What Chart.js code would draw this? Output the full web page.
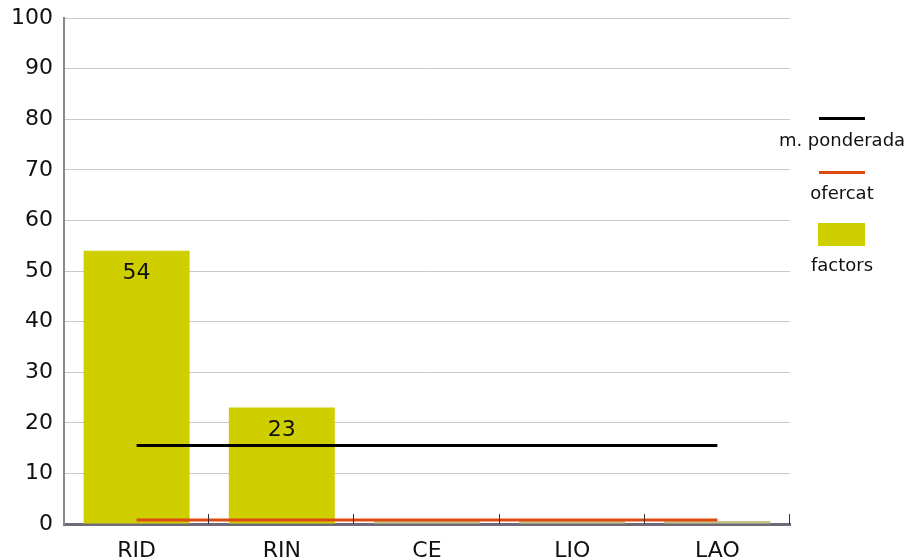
<!DOCTYPE html>
<html>
<head>
<meta charset="utf-8">
<script src="https://cdn.jsdelivr.net/npm/chart.js@4"></script>
<style>
  html, body { margin: 0; padding: 0; background: #fff; }
  #wrap { width: 910px; height: 558px; }
</style>
</head>
<body>
<div id="wrap"><canvas id="chart"></canvas></div>
<script>
const categories = ['RID', 'RIN', 'CE', 'LIO', 'LAO'];
const factors = [54, 23, 0, 0, 0];
const ofercat = [0.8, 0.8, 0.8, 0.8, 0.8];
const ponderada = [15.5, 15.5, 15.5, 15.5, 15.5];
const yTicks = [0, 10, 20, 30, 40, 50, 60, 70, 80, 90, 100];

const FONT = '"DejaVu Sans", Verdana, sans-serif';
const YELLOW = '#cfcf00';
const ORANGE = '#dd4b12';

// value labels inside the bars
const barLabels = {
  id: 'barLabels',
  afterDatasetsDraw(chart) {
    const meta = chart.getDatasetMeta(2);
    const ctx = chart.ctx;
    ctx.save();
    ctx.font = '22px ' + FONT;
    ctx.fillStyle = '#111';
    ctx.textAlign = 'center';
    ctx.textBaseline = 'middle';
    meta.data.forEach((bar, i) => {
      if (factors[i] > 0) ctx.fillText(String(factors[i]), bar.x, bar.y + 23);
    });
    ctx.restore();
  },
};

// small tick marks on the x axis, inside the plot
const innerTicks = {
  id: 'innerTicks',
  afterDatasetsDraw(chart) {
    const { ctx, chartArea } = chart;
    const step = (chartArea.right - chartArea.left) / categories.length;
    ctx.save();
    ctx.strokeStyle = '#333';
    ctx.lineWidth = 1;
    for (let i = 1; i <= categories.length; i++) {
      const x = Math.round(chartArea.left + i * step) - 0.5;
      ctx.beginPath();
      ctx.moveTo(x, chartArea.bottom - 10);
      ctx.lineTo(x, chartArea.bottom);
      ctx.stroke();
    }
    ctx.restore();
  },
};

// legend stacked on the right: sample above label
const sideLegend = {
  id: 'sideLegend',
  afterDraw(chart) {
    const ctx = chart.ctx;
    const cx = 842;
    ctx.save();
    ctx.font = '18px ' + FONT;
    ctx.textAlign = 'center';
    ctx.textBaseline = 'middle';

    ctx.fillStyle = '#000';
    ctx.fillRect(819, 117, 46, 3);
    ctx.fillStyle = '#111';
    ctx.fillText('m. ponderada', cx, 141);

    ctx.fillStyle = ORANGE;
    ctx.fillRect(819, 171, 46, 3);
    ctx.fillStyle = '#111';
    ctx.fillText('ofercat', cx, 194);

    ctx.fillStyle = YELLOW;
    ctx.fillRect(818, 223, 47, 23);
    ctx.fillStyle = '#111';
    ctx.fillText('factors', cx, 266);
    ctx.restore();
  },
};

new Chart(document.getElementById('chart'), {
  data: {
    labels: categories,
    datasets: [
      {
        type: 'line',
        label: 'm. ponderada',
        data: ponderada,
        borderColor: '#000',
        borderWidth: 3,
        pointRadius: 0,
        order: 1,
      },
      {
        type: 'line',
        label: 'ofercat',
        data: ofercat,
        borderColor: ORANGE,
        borderWidth: 3,
        pointRadius: 0,
        order: 2,
      },
      {
        type: 'bar',
        label: 'factors',
        data: factors,
        backgroundColor: factors.map((v) => (v > 0 ? YELLOW : '#c4c48a')),
        minBarLength: 3,
        barPercentage: 0.73,
        categoryPercentage: 1,
        order: 3,
      },
    ],
  },
  options: {
    responsive: true,
    maintainAspectRatio: false,
    animation: false,
    layout: { padding: { top: 18, right: 120, left: 0, bottom: 0 } },
    plugins: {
      legend: { display: false },
      tooltip: { enabled: false },
    },
    scales: {
      x: {
        offset: true,
        grid: { display: false },
        border: { display: true, color: '#6f6a78', width: 3 },
        ticks: { color: '#111', font: { family: FONT, size: 22 }, padding: 6, maxRotation: 0 },
        afterFit: (scale) => { scale.height = 34; },
      },
      y: {
        min: 0,
        max: 100,
        afterBuildTicks: (scale) => { scale.ticks = yTicks.map((v) => ({ value: v })); },
        grid: { color: '#c8c8c8', lineWidth: 1, drawTicks: false },
        border: { display: true, color: '#888', width: 2 },
        ticks: { color: '#111', font: { family: FONT, size: 22 }, padding: 11 },
        afterFit: (scale) => {
          scale.width = 64;
          scale.paddingTop = 0;
          scale.paddingBottom = 0;
        },
      },
    },
  },
  plugins: [barLabels, innerTicks, sideLegend],
});
</script>
</body>
</html>
